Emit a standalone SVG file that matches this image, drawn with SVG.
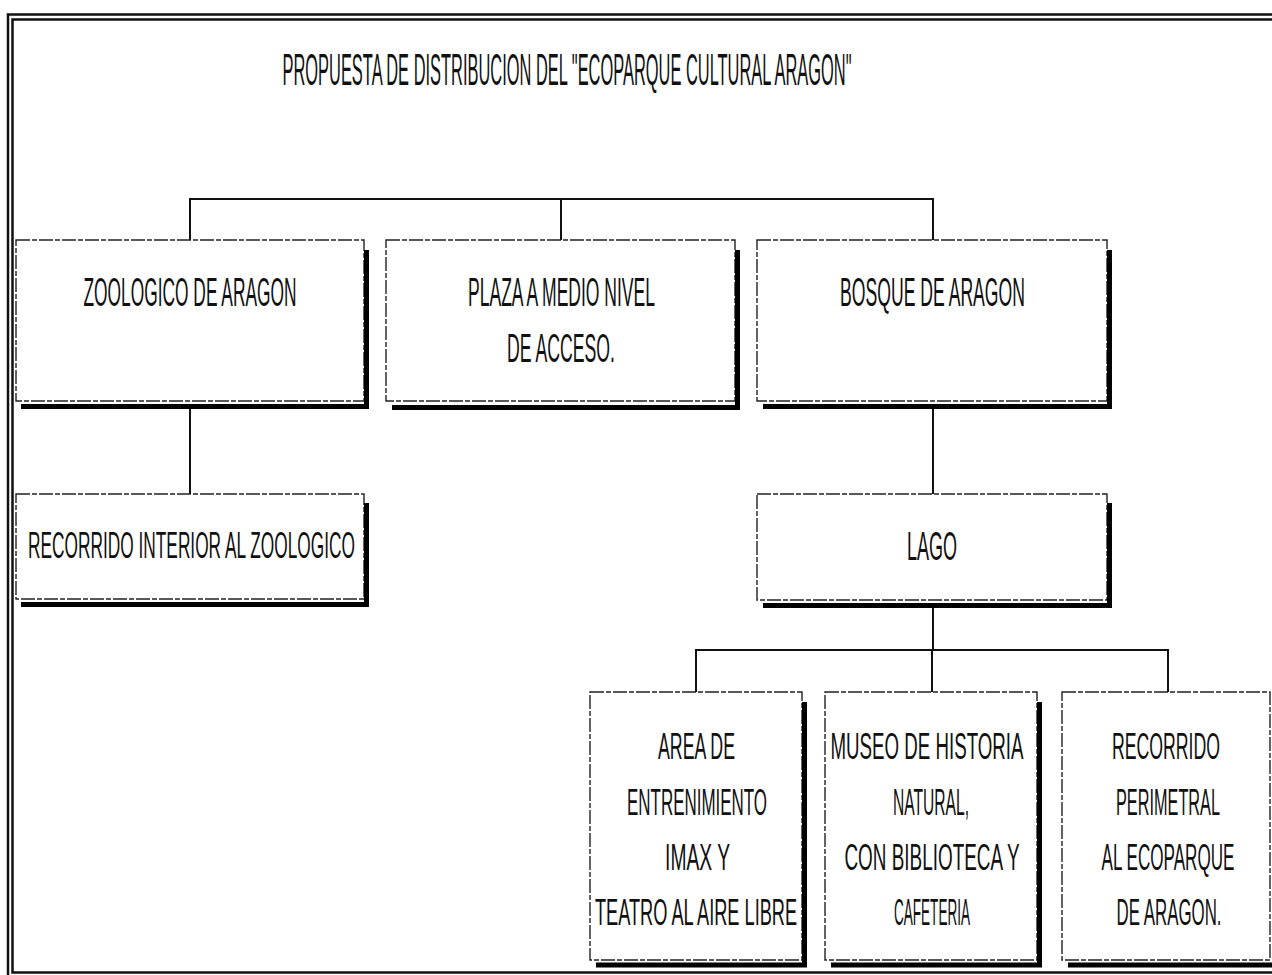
<svg xmlns="http://www.w3.org/2000/svg" width="1272" height="975" viewBox="0 0 1272 975">
<style>
.frame{fill:none;stroke:#111;stroke-width:2.5}
.box{fill:#fff;stroke:#222;stroke-width:1.4;stroke-dasharray:14 2 5 2}
.sh{stroke:#000;stroke-width:5;fill:none}
.cn{stroke:#111;stroke-width:2;fill:none}
text{font-family:"Liberation Sans",Arial,sans-serif;fill:#111;text-anchor:middle}
.t{font-size:41px}
.s{font-size:37px}
</style>
<rect width="1272" height="975" fill="#fff"/>
<g id="frame">
<rect class="frame" x="8" y="14.5" width="1290" height="980"/>
<rect class="frame" x="12.5" y="19.5" width="1280" height="953"/>
</g>
<text id="title" style="font-size:44px" transform="translate(567 85) scale(0.369 1)" textLength="1542" lengthAdjust="spacingAndGlyphs">PROPUESTA DE DISTRIBUCION DEL "ECOPARQUE CULTURAL ARAGON"</text>
<g id="connectors">
<path class="cn" d="M190 240V199H933V240M561 199V240"/>
<path class="cn" d="M190 408V494"/>
<path class="cn" d="M933 408V494"/>
<path class="cn" d="M933 606V650M696 692V650H1168V692M932 650V692"/>
</g>
<g id="zoologico">
<rect class="box" x="16" y="240" width="348" height="161"/>
<path class="sh" d="M366.5 250V407M21 406.5H369"/>
<text class="t" transform="translate(190 306) scale(0.421 1)" textLength="506" lengthAdjust="spacingAndGlyphs">ZOOLOGICO DE ARAGON</text>
</g>
<g id="plaza">
<rect class="box" x="386" y="240" width="349" height="161"/>
<path class="sh" d="M737.5 250V407M392 407.5H740"/>
<text class="t" transform="translate(561.5 306) scale(0.421 1)" textLength="444" lengthAdjust="spacingAndGlyphs">PLAZA A MEDIO NIVEL</text>
<text class="t" transform="translate(561 362) scale(0.427 1)" textLength="253" lengthAdjust="spacingAndGlyphs">DE ACCESO.</text>
</g>
<g id="bosque">
<rect class="box" x="757" y="240" width="350" height="161"/>
<path class="sh" d="M1109.5 250V407M763 406.5H1112"/>
<text class="t" transform="translate(932.5 306) scale(0.427 1)" textLength="433" lengthAdjust="spacingAndGlyphs">BOSQUE DE ARAGON</text>
</g>
<g id="recorrido-interior">
<rect class="box" x="16" y="494" width="348" height="105"/>
<path class="sh" d="M366.5 503V605M21 604.5H369"/>
<text class="s" transform="translate(191.5 558) scale(0.465 1)" textLength="703" lengthAdjust="spacingAndGlyphs">RECORRIDO INTERIOR AL ZOOLOGICO</text>
</g>
<g id="lago">
<rect class="box" x="757" y="494" width="350" height="106"/>
<path class="sh" d="M1109.5 503V606M763 605.5H1112"/>
<text class="t" transform="translate(932 560) scale(0.439 1)" textLength="114" lengthAdjust="spacingAndGlyphs">LAGO</text>
</g>
<g id="area">
<rect class="box" x="590" y="692" width="212" height="268"/>
<path class="sh" d="M804.5 702V966M596 965H807"/>
<text class="s" transform="translate(696.5 759) scale(0.474 1)" textLength="162.4" lengthAdjust="spacingAndGlyphs">AREA DE</text>
<text class="s" transform="translate(697 815) scale(0.457 1)" textLength="306.3" lengthAdjust="spacingAndGlyphs">ENTRENIMIENTO</text>
<text class="s" transform="translate(697.5 870) scale(0.518 1)" textLength="125.4" lengthAdjust="spacingAndGlyphs">IMAX Y</text>
<text class="s" transform="translate(696 925) scale(0.482 1)" textLength="419.5" lengthAdjust="spacingAndGlyphs">TEATRO AL AIRE LIBRE</text>
</g>
<g id="museo">
<rect class="box" x="825" y="692" width="212" height="268"/>
<path class="sh" d="M1039.5 702V966M831 965H1042"/>
<text class="s" transform="translate(927 759) scale(0.505 1)" textLength="382.4" lengthAdjust="spacingAndGlyphs">MUSEO DE HISTORIA</text>
<text class="s" transform="translate(931 815) scale(0.415 1)" textLength="183" lengthAdjust="spacingAndGlyphs">NATURAL,</text>
<text class="s" transform="translate(932 870) scale(0.507 1)" textLength="345.4" lengthAdjust="spacingAndGlyphs">CON BIBLIOTECA Y</text>
<text class="s" transform="translate(932 925) scale(0.366 1)" textLength="207.6" lengthAdjust="spacingAndGlyphs">CAFETERIA</text>
</g>
<g id="recorrido-perimetral">
<rect class="box" x="1062" y="692" width="208" height="268"/>
<path class="sh" d="M1068 965H1272"/>
<text class="s" transform="translate(1166 759) scale(0.478 1)" textLength="226.1" lengthAdjust="spacingAndGlyphs">RECORRIDO</text>
<text class="s" transform="translate(1168 815) scale(0.44 1)" textLength="236.4" lengthAdjust="spacingAndGlyphs">PERIMETRAL</text>
<text class="s" transform="translate(1168 870) scale(0.455 1)" textLength="292" lengthAdjust="spacingAndGlyphs">AL ECOPARQUE</text>
<text class="s" transform="translate(1169 925) scale(0.452 1)" textLength="232.3" lengthAdjust="spacingAndGlyphs">DE ARAGON.</text>
</g>
</svg>
